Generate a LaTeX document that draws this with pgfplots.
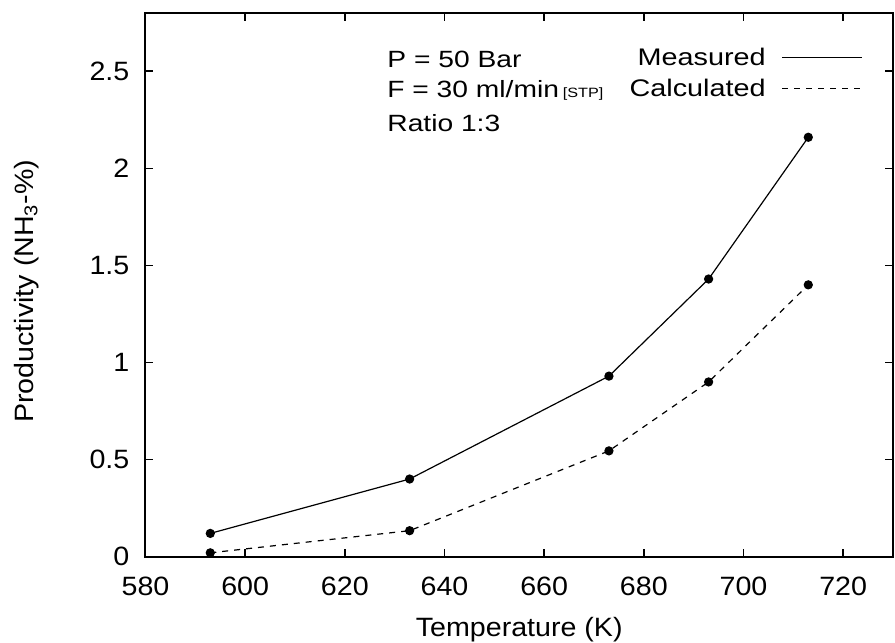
\documentclass[border=0pt]{standalone}
\usepackage{fontspec}
\setmainfont{Liberation Sans}[FakeStretch=1.08]
\newfontfamily\annfont{Liberation Sans}[FakeStretch=1.2]
\usepackage{pgfplots}
\pgfplotsset{compat=1.18}
\begin{document}
\begin{tikzpicture}
\begin{axis}[
  scale only axis,
  width=747.5bp, height=543.7bp,
  xmin=580, xmax=730, ymin=0, ymax=2.8,
  xtick={580,600,...,720},
  ytick={0,0.5,1,1.5,2,2.5},
  yticklabels={0,0.5,1,1.5,2,2.5},
  /pgf/number format/assume math mode=true,
  tick align=inside,
  major tick length=8bp,
  tick style={line width=1.5bp, black},
  axis line style={line width=2bp},
  ticklabel style={font=\fontsize{26.5bp}{30bp}\selectfont},
  xticklabel style={anchor=base, inner sep=0pt, yshift=-38.3bp},
  yticklabel style={anchor=east, inner sep=0pt, xshift=-16bp},
  label style={font=\fontsize{26.5bp}{30bp}\selectfont},
  xlabel={Temperature (K)},
  ylabel={Productivity (NH\textsubscript{3}-\%)},
  xlabel style={at={(axis description cs:0.5,-0.1471)}, anchor=base},
  ylabel style={at={(axis description cs:-0.1505,0.488)}, anchor=base, rotate=0},
  legend style={draw=none, fill=none, legend plot pos=right, legend cell align=right,
    at={(axis cs:724,2.632)}, anchor=north east,
    font=\annfont\fontsize{24bp}{28bp}\selectfont,
    row sep=8.5bp, column sep=14bp, inner sep=0pt, cells={inner sep=0pt}},
  legend image code/.code={\draw[#1] (0bp,0bp) -- (80bp,0bp);},
]
\addplot[black, line width=1.2bp, mark=*, mark size=4bp, mark options={solid}]
  coordinates {(593,0.12) (633,0.40) (673,0.93) (693,1.43) (713,2.16)};
\addlegendentry{Measured}
\addplot[black, line width=1.2bp, dash pattern=on 6bp off 6bp, mark=*, mark size=4bp, mark options={solid}]
  coordinates {(593,0.02) (633,0.134) (673,0.545) (693,0.90) (713,1.40)};
\addlegendentry{Calculated}
\node[anchor=base west, inner sep=0pt, font=\annfont\fontsize{23.5bp}{28bp}\selectfont] at (axis cs:628.5,2.521) {P = 50 Bar};
\node[anchor=base west, inner sep=0pt, font=\annfont\fontsize{23.5bp}{28bp}\selectfont] at (axis cs:628.5,2.363) {F = 30 ml/min\,{\fontsize{13.5bp}{16bp}\selectfont[STP]}};
\node[anchor=base west, inner sep=0pt, font=\annfont\fontsize{23.5bp}{28bp}\selectfont] at (axis cs:628.5,2.191) {Ratio 1:3};
\end{axis}
\pgfresetboundingbox
\path ([xshift=-145.5bp,yshift=-86.3bp]current axis.south west) rectangle ([xshift=2bp,yshift=13bp]current axis.north east);
\end{tikzpicture}
\end{document}
